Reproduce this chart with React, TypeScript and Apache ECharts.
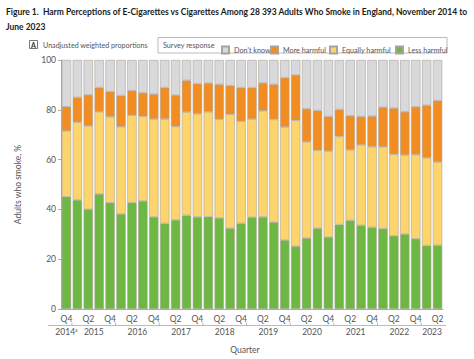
import React, { useEffect, useRef } from "react";
import * as echarts from "echarts";

const quarters = [
  "2014 Q4",
  "2015 Q1", "2015 Q2", "2015 Q3", "2015 Q4",
  "2016 Q1", "2016 Q2", "2016 Q3", "2016 Q4",
  "2017 Q1", "2017 Q2", "2017 Q3", "2017 Q4",
  "2018 Q1", "2018 Q2", "2018 Q3", "2018 Q4",
  "2019 Q1", "2019 Q2", "2019 Q3", "2019 Q4",
  "2020 Q1", "2020 Q2", "2020 Q3", "2020 Q4",
  "2021 Q1", "2021 Q2", "2021 Q3", "2021 Q4",
  "2022 Q1", "2022 Q2", "2022 Q3", "2022 Q4",
  "2023 Q1", "2023 Q2",
];

const lessHarmful = [45.1, 43.8, 40.1, 46.2, 42.7, 38.2, 42.7, 43.4, 37.0, 34.4, 35.8, 37.6, 37.0, 37.1, 36.6, 32.4, 34.4, 36.9, 37.0, 34.9, 27.7, 25.2, 28.5, 32.4, 28.9, 33.9, 35.6, 33.6, 32.8, 32.3, 29.4, 30.1, 28.2, 25.5, 25.6];
const equallyHarmful = [26.4, 31.2, 33.4, 33.0, 34.5, 35.0, 35.1, 34.0, 39.3, 41.9, 37.5, 41.5, 41.4, 42.1, 39.6, 45.8, 41.0, 39.4, 42.6, 41.2, 45.4, 50.6, 38.6, 31.3, 34.5, 35.4, 28.3, 32.3, 32.4, 32.8, 32.7, 31.7, 33.8, 35.2, 33.4];
const moreHarmful = [9.7, 10.0, 12.5, 9.7, 10.1, 12.5, 9.9, 9.4, 10.0, 12.6, 12.6, 12.7, 12.1, 11.5, 14.0, 11.5, 13.5, 12.6, 11.2, 14.1, 19.8, 18.2, 13.3, 16.0, 13.9, 10.8, 13.7, 11.4, 12.2, 15.9, 18.6, 17.4, 19.2, 21.1, 24.7];
const dontKnow = [18.8, 15.0, 14.0, 11.1, 12.7, 14.3, 12.3, 13.2, 13.7, 11.1, 14.1, 8.2, 9.5, 9.3, 9.8, 10.3, 11.1, 11.1, 9.2, 9.8, 7.1, 6.0, 19.6, 20.3, 22.7, 19.9, 22.4, 22.7, 22.6, 19.0, 19.3, 20.8, 18.8, 18.2, 16.3];

const yTicks = [0, 20, 40, 60, 80, 100];
const years = ["2014", "2015", "2016", "2017", "2018", "2019", "2020", "2021", "2022", "2023"];
const legendOrder = ["Don't know", "More harmful", "Equally harmful", "Less harmful"];

const FONT = "Lato, 'Liberation Sans', sans-serif";
const TXT = "#555";

function textWidth(text: string, font: string): number {
  const c = document.createElement("canvas").getContext("2d");
  if (!c) return text.length * 5;
  c.font = font;
  return c.measureText(text).width;
}

export default function App() {
  const ref = useRef<HTMLDivElement>(null);

  useEffect(() => {
    if (!ref.current) return;
    const chart = echarts.init(ref.current, undefined, { renderer: "svg" });

    const barStyle = (color: string) => ({
      color,
      borderColor: "#a9a39a",
      borderWidth: 0.6,
    });

    const legendLefts = [216, 265, 324, 390];
    const legends = legendOrder.map((name, i) => ({
      left: legendLefts[i],
      top: 40.5,
      itemWidth: 7,
      itemHeight: 7,
      itemGap: 0,
      icon: "rect",
      selectedMode: false,
      data: [name],
      textStyle: { fontFamily: FONT, fontSize: 7.2, color: TXT },
    }));

    const option: any = {
      animation: false,
      backgroundColor: "#fff",
      textStyle: { fontFamily: FONT },
      grid: { left: 61, right: 31, top: 60, bottom: 44 },
      legend: legends,
      xAxis: {
        type: "category",
        data: quarters,
        axisLine: { lineStyle: { color: "#aaa", width: 1 } },
        axisTick: { show: false },
        axisLabel: {
          interval: 0,
          margin: 5,
          fontSize: 8.5,
          color: TXT,
          fontFamily: FONT,
          formatter: (v: string, i: number) => (i % 2 === 0 ? v.split(" ")[1] : ""),
        },
        name: "Quarter",
        nameLocation: "middle",
        nameGap: 36,
        nameTextStyle: { fontSize: 8.5, color: TXT, fontFamily: FONT, padding: [0, 14, 0, 0] },
      },
      yAxis: {
        type: "value",
        min: 0,
        max: 100,
        interval: 20,
        splitLine: { show: false },
        axisLine: { show: true, lineStyle: { color: "#aaa" } },
        axisTick: { show: true, length: 3, lineStyle: { color: "#aaa" } },
        axisLabel: {
          fontSize: 8.5,
          color: TXT,
          fontFamily: FONT,
          margin: 5,
          formatter: (v: number) => (yTicks.includes(v) ? String(v) : ""),
        },
        name: "Adults who smoke, %",
        nameLocation: "middle",
        nameGap: 39,
        nameTextStyle: { fontSize: 8.5, color: TXT, fontFamily: FONT },
      },
      series: [
        { name: "Less harmful", type: "bar", stack: "s", data: lessHarmful, barCategoryGap: "14%", itemStyle: barStyle("#6cb843") },
        { name: "Equally harmful", type: "bar", stack: "s", data: equallyHarmful, itemStyle: barStyle("#fed56c") },
        { name: "More harmful", type: "bar", stack: "s", data: moreHarmful, itemStyle: barStyle("#f28d22") },
        { name: "Don't know", type: "bar", stack: "s", data: dontKnow, itemStyle: barStyle("#d9d9dc") },
      ],
    };
    chart.setOption(option);

    const px = (i: number) => chart.convertToPixel({ xAxisIndex: 0 }, i) as number;
    const y0 = chart.convertToPixel({ yAxisIndex: 0 }, 0) as number;
    const lineY = y0 + 16.5;
    const yearStart: number[] = [];
    const yearEnd: number[] = [];
    years.forEach((yr) => {
      const idx = quarters.map((q, i) => (q.startsWith(yr) ? i : -1)).filter((i) => i >= 0);
      yearStart.push(idx[0]);
      yearEnd.push(idx[idx.length - 1]);
    });
    const half = (px(1) - px(0)) / 2;

    const title1 = "Figure 1.  Harm Perceptions of E-Cigarettes vs Cigarettes Among 28 393 Adults Who Smoke in England, November 2014 to";
    const titleFont = "bold 10px Lato";
    const tScale = 463 / textWidth(title1, titleFont);
    const sub = "Unadjusted weighted proportions";
    const subScale = Math.min(1, 105 / textWidth(sub, "8.5px Lato"));

    const graphics: any[] = [
      {
        type: "text",
        x: 6,
        y: 3,
        scaleX: tScale,
        style: {
          text: title1 + "\nJune 2023",
          fontFamily: FONT,
          fontWeight: "bold",
          fontSize: 10,
          lineHeight: 15.5,
          fill: "#1a1a1a",
        },
      },
      {
        type: "rect",
        shape: { x: 29.5, y: 40.5, width: 8, height: 8 },
        style: { fill: "#fff", stroke: "#555", lineWidth: 0.8 },
      },
      {
        type: "text",
        x: 33.5,
        y: 44.8,
        style: { text: "A", fontFamily: FONT, fontWeight: "bold", fontSize: 7, fill: "#333", align: "center", verticalAlign: "middle" },
      },
      {
        type: "text",
        x: 43,
        y: 44.5,
        scaleX: subScale,
        style: { text: sub, fontFamily: FONT, fontSize: 8.5, fill: TXT, verticalAlign: "middle" },
      },
      {
        type: "rect",
        shape: { x: 158, y: 37.5, width: 289, height: 15.5 },
        style: { fill: "none", stroke: "#aaa", lineWidth: 0.8 },
        z: -1,
      },
      {
        type: "text",
        x: 163,
        y: 45,
        style: { text: "Survey response", fontFamily: FONT, fontSize: 7.2, fill: TXT, verticalAlign: "middle" },
      },
      {
        type: "line",
        shape: { x1: 48, y1: lineY, x2: px(quarters.length - 1) + half + 3, y2: lineY },
        style: { stroke: "#aaa", lineWidth: 0.8 },
      },
    ];
    years.forEach((yr, k) => {
      const cx = (px(yearStart[k]) + px(yearEnd[k])) / 2;
      graphics.push({
        type: "text",
        x: cx,
        y: lineY + 6.5,
        style: {
          text: k === 0 ? `${yr}{sup|a}` : yr,
          rich: { sup: { fontSize: 5, verticalAlign: "top", padding: [0, 0, 4, 0], fill: TXT, fontFamily: FONT } },
          fontFamily: FONT,
          fontSize: 8.5,
          fill: TXT,
          align: "center",
          verticalAlign: "middle",
        },
      });
      if (k > 0) {
        const bx = (px(yearStart[k] - 1) + px(yearStart[k])) / 2;
        graphics.push({
          type: "line",
          shape: { x1: bx, y1: lineY - 3, x2: bx, y2: lineY },
          style: { stroke: "#aaa", lineWidth: 0.8 },
        });
      }
    });
    chart.setOption({ graphic: graphics });

    return () => chart.dispose();
  }, []);

  return (
    <div
      ref={ref}
      style={{ position: "fixed", left: 0, top: 0, width: 474, height: 359, background: "#fff" }}
    />
  );
}
